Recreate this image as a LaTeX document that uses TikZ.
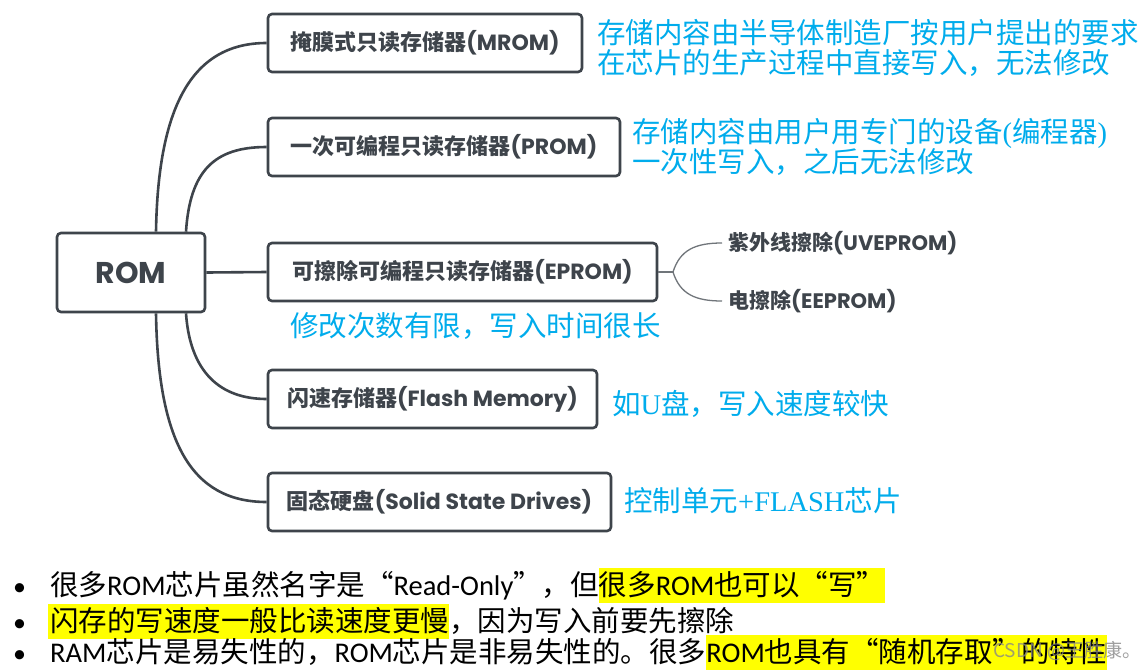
\documentclass[tikz,border=0pt]{standalone}
\usepackage{fontspec}
\setmainfont{Noto Sans CJK SC}
\newfontfamily\cjk{Noto Sans CJK SC}
\newfontfamily\pop{Poppins}
\newfontfamily\carl{Carlito}
\newfontfamily\tms{Liberation Serif}
\definecolor{lc}{RGB}{62,68,75}
\definecolor{thin}{RGB}{112,117,122}
\definecolor{bl}{RGB}{0,172,236}
\definecolor{hly}{RGB}{255,255,0}
\definecolor{wm}{RGB}{135,135,135}
\newcommand\hlt[1]{{\setlength{\fboxsep}{0pt}\colorbox{hly}{\rule[-8pt]{0pt}{35pt}#1}}}
\tikzset{
  box/.style={draw=lc, line width=2.6pt, rounded corners=4pt, text=lc,
    font=\cjk\bfseries\fontsize{22}{26}\selectfont, inner sep=0pt, fill=white},
  sub/.style={text=lc, font=\cjk\bfseries\fontsize{21}{25}\selectfont, inner sep=0pt, anchor=west},
  ann/.style={text=bl, font=\cjk\fontsize{28.5}{31}\selectfont, inner sep=0pt, anchor=base west},
  bul/.style={text=black, font=\cjk\fontsize{28.5}{34}\selectfont, inner sep=0pt, anchor=base west},
  dot/.style={text=black, font=\carl\fontsize{26}{30}\selectfont, inner sep=0pt, anchor=base west},
  conn/.style={draw=lc, line width=2.6pt},
  thinconn/.style={draw=thin, line width=1.3pt}
}
\begin{document}
\begin{tikzpicture}[x=1pt,y=-1pt]
\useasboundingbox[fill=white] (0,0) rectangle (1146,670);

% main boxes
\node[box, minimum width=148pt, minimum height=79pt, font=\pop\bfseries\fontsize{30}{34}\selectfont] (rom) at (131,272.5) {ROM};
\node[box, minimum width=314pt, minimum height=58pt] (mrom) at (425,43) {掩膜式只读存储器{\pop\bfseries(MROM)}};
\node[box, minimum width=352pt, minimum height=58pt] (prom) at (444,147) {一次可编程只读存储器{\pop\bfseries(PROM)}};
\node[box, minimum width=389pt, minimum height=58pt] (eprom) at (462.5,272) {可擦除可编程只读存储器{\pop\bfseries(EPROM)}};
\node[box, minimum width=329pt, minimum height=58pt] (flash) at (432.5,399) {闪速存储器{\pop\bfseries(Flash Memory)}};
\node[box, minimum width=343pt, minimum height=58pt] (ssd) at (439.5,502) {固态硬盘{\pop\bfseries(Solid State Drives)}};

% connectors
\draw[conn] ([xshift=25pt]rom.north) .. controls (158,110) and (190,43) .. (mrom.west);
\draw[conn] ([xshift=55pt]rom.north) .. controls (190,170) and (215,147) .. (prom.west);
\draw[conn] (rom.east) -- (eprom.west);
\draw[conn] ([xshift=55pt]rom.south) .. controls (190,372) and (220,399) .. (flash.west);
\draw[conn] ([xshift=25pt]rom.south) .. controls (158,440) and (190,502) .. (ssd.west);

% sub-branches of EPROM
\node[sub] (uve) at (728,243) {紫外线擦除{\pop\bfseries(UVEPROM)}};
\node[sub] (ee) at (728,301) {电擦除{\pop\bfseries(EEPROM)}};
\coordinate (fork) at (673,272);
\draw[thinconn] (eprom.east) -- (fork);
\draw[thinconn] (fork) .. controls (680,250) and (695,243) .. ([xshift=-6pt]uve.west);
\draw[thinconn] (fork) .. controls (680,294) and (695,301) .. ([xshift=-6pt]ee.west);

% annotations
\node[ann] (a1) at (597,43) {存储内容由半导体制造厂按用户提出的要求};
\node[ann] (a2) at (597,73.5) {在芯片的生产过程中直接写入，无法修改};
\node[ann] (a3) at (632,142) {存储内容由用户用专门的设备{\tms(}编程器{\tms)}};
\node[ann] (a4) at (632,172) {一次性写入，之后无法修改};
\node[ann] (a5) at (290,336) {修改次数有限，写入时间很长};
\node[ann] (a6) at (612,414) {如{\tms U}盘，写入速度较快};
\node[ann] (a7) at (624,511) {控制单元{\tms +FLASH}芯片};

% bullets
\node[dot] (d1) at (13,595) {•};
\node[dot] (d2) at (13,631) {•};
\node[dot] (d3) at (13,662) {•};
\node[bul] (b1) at (50,595) {很多{\carl ROM}芯片虽然名字是“{\carl Read-Only}”，但\hlt{很多{\carl ROM}也可以“写”}};
\node[bul] (b2) at (48,631) {\hlt{\kern2pt闪存的写速度一般比读速度更慢}，因为写入前要先擦除};
\node[bul] (b3) at (50,662) {{\carl RAM}芯片是易失性的，{\carl ROM}芯片是非易失性的。很多\hlt{{\carl ROM}也具有“随机存取”的特性}};

% watermark
\node[text=wm, opacity=0.8, font=\cjk\fontsize{19}{22}\selectfont, anchor=west, inner sep=0pt] (wmk) at (993,651) {CSDN @王胜康。};
\end{tikzpicture}
\end{document}
